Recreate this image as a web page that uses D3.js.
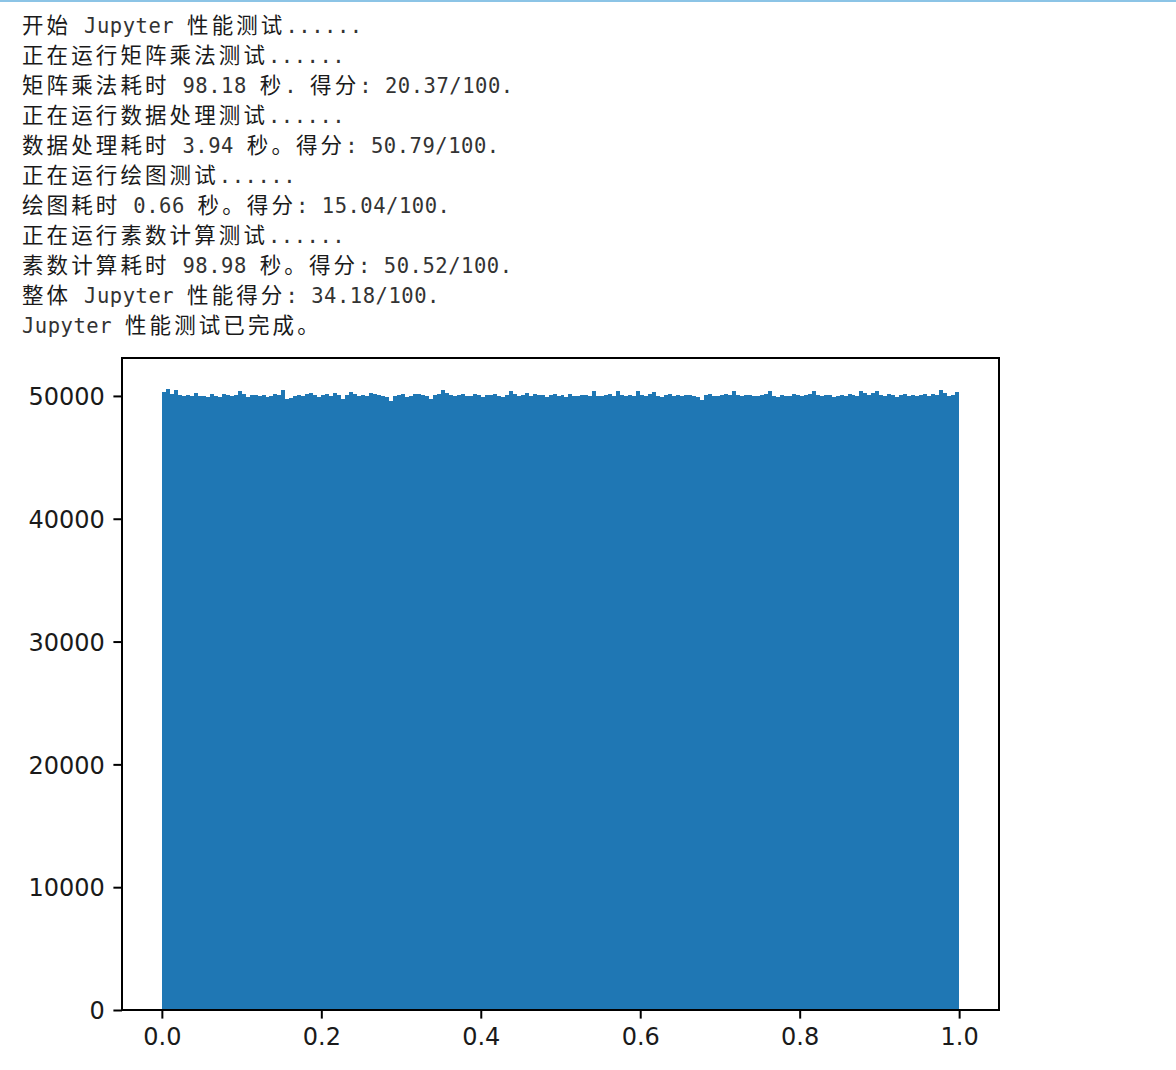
<!DOCTYPE html>
<html>
<head>
<meta charset="utf-8">
<script src="https://cdn.jsdelivr.net/npm/d3@7"></script>
<style>
  html, body { margin: 0; padding: 0; background: #fff; }
  svg { display: block; }
</style>
</head>
<body>
<svg id="chart" width="1176" height="1070"></svg>
<script>
// ---------- data ----------
const outputLines = [
  "开始 Jupyter 性能测试......",
  "正在运行矩阵乘法测试......",
  "矩阵乘法耗时 98.18 秒. 得分: 20.37/100.",
  "正在运行数据处理测试......",
  "数据处理耗时 3.94 秒。得分: 50.79/100.",
  "正在运行绘图测试......",
  "绘图耗时 0.66 秒。得分: 15.04/100.",
  "正在运行素数计算测试......",
  "素数计算耗时 98.98 秒。得分: 50.52/100.",
  "整体 Jupyter 性能得分: 34.18/100.",
  "Jupyter 性能测试已完成。"
];

const binRange = [0, 1];
const binCounts = [
  50310, 50560, 50120, 50480, 50050, 50010, 50090, 49980, 50230, 49960,
  50010, 49920, 50140, 50020, 49950, 50180, 50060, 49990, 50080, 50420,
  50150, 49900, 50060, 50110, 49980, 50040, 49880, 50010, 50130, 50070,
  50500, 49780, 49850, 50020, 50090, 49970, 50160, 50200, 50050, 49940,
  50080, 50130, 50000, 50240, 50060, 49720, 50110, 50290, 50150, 50020,
  50100, 49960, 50270, 50180, 50050, 50010, 49930, 49620, 49990, 50050,
  50140, 49900, 50030, 50120, 50190, 50060, 49970, 49740, 50080, 50120,
  50460, 50200, 50060, 49990, 50090, 50130, 49960, 50020, 50140, 50070,
  49950, 50110, 50060, 50180, 50010, 49930, 50090, 50420, 50160, 49980,
  50050, 50200, 49990, 50120, 50040, 50100, 49920, 50060, 50150, 50010,
  50080, 49950, 50130, 50030, 49970, 50060, 50110, 50010, 50380, 50020,
  49960, 50090, 50140, 50000, 50400, 50040, 49970, 50080, 50030, 50390,
  50060, 49980, 50120, 50360, 50010, 49940, 50070, 50150, 50030, 50090,
  49980, 50050, 50110, 50020, 49900, 49700, 50060, 50140, 50010, 49960,
  50080, 50130, 50050, 50420, 50070, 49990, 50040, 50110, 50020, 49970,
  50060, 50150, 50390, 50020, 49950, 50090, 50030, 49980, 50120, 50060,
  50010, 50090, 50140, 50430, 50070, 49990, 50040, 50100, 49930, 50020,
  50080, 49960, 50130, 50050, 50010, 50400, 50200, 50090, 50250, 50380,
  50060, 49990, 50120, 50040, 49950, 50080, 50150, 50020, 50100, 49970,
  50060, 50130, 50030, 50180, 50090, 50500, 50210, 49980, 50060, 50330
];

const xTicks = [0.0, 0.2, 0.4, 0.6, 0.8, 1.0];
const yTicks = [0, 10000, 20000, 30000, 40000, 50000];

// ---------- layout ----------
const svg = d3.select("#chart");
const W = 1176, H = 1070;

// top cell border
svg.append("rect").attr("x", 0).attr("y", 0).attr("width", W).attr("height", 2)
  .attr("fill", "#8cc4e6");

// ---------- text output ----------
const cjkAdv = 24.6, latAdv = 12.87;
const isCJK = ch => ch.charCodeAt(0) > 0x2E7F;
const textG = svg.append("g");
outputLines.forEach((line, li) => {
  const t = textG.append("text")
    .attr("y", 33 + li * 30)
    .attr("fill", "#1e1e1e");
  let x = 22;
  const chars = Array.from(line);
  let runs = [];
  chars.forEach(ch => {
    const c = isCJK(ch);
    const last = runs[runs.length - 1];
    if (!last || last.cjk !== c) runs.push({cjk: c, chars: [], xs: []});
    const r = runs[runs.length - 1];
    r.chars.push(ch);
    r.xs.push(x.toFixed(2));
    x += c ? cjkAdv : latAdv;
  });
  runs.forEach(r => {
    t.append("tspan")
      .attr("x", r.xs.join(" "))
      .attr("font-family", r.cjk ? "'Noto Sans CJK SC'" : "'DejaVu Sans Mono', 'Liberation Mono', monospace")
      .attr("font-size", r.cjk ? 21.5 : 20.5)
      .attr("fill", r.cjk ? "#1a1a1a" : "#333")
      .attr("xml:space", "preserve")
      .text(r.chars.join(""));
  });
});

// ---------- histogram ----------
const plot = {left: 122, right: 999, top: 358, bottom: 1010};
const nBins = binCounts.length;
const binW = (binRange[1] - binRange[0]) / nBins;
const bins = binCounts.map((c, i) => ({x0: binRange[0] + i * binW, x1: binRange[0] + (i + 1) * binW, count: c}));

const x = d3.scaleLinear()
  .domain([binRange[0] - 0.05 * (binRange[1] - binRange[0]), binRange[1] + 0.05 * (binRange[1] - binRange[0])])
  .range([plot.left, plot.right]);
const y = d3.scaleLinear()
  .domain([0, d3.max(binCounts) * 1.05])
  .range([plot.bottom, plot.top]);

svg.append("g")
  .attr("shape-rendering", "crispEdges")
  .selectAll("rect")
  .data(bins)
  .join("rect")
  .attr("x", d => x(d.x0))
  .attr("width", d => x(d.x1) - x(d.x0))
  .attr("y", d => y(d.count))
  .attr("height", d => y(0) - y(d.count))
  .attr("fill", "#1f77b4");

// frame
svg.append("rect")
  .attr("x", plot.left).attr("y", plot.top)
  .attr("width", plot.right - plot.left).attr("height", plot.bottom - plot.top)
  .attr("fill", "none").attr("stroke", "#000").attr("stroke-width", 2);

const tickLen = 8.6, tickPad = 8.6;
const xAxis = svg.append("g")
  .attr("transform", `translate(0,${plot.bottom})`)
  .call(d3.axisBottom(x).tickValues(xTicks).tickFormat(d3.format(".1f")).tickSize(tickLen).tickPadding(tickPad));
const yAxis = svg.append("g")
  .attr("transform", `translate(${plot.left},0)`)
  .call(d3.axisLeft(y).tickValues(yTicks).tickFormat(d3.format("d")).tickSize(tickLen).tickPadding(tickPad));

[xAxis, yAxis].forEach(g => {
  g.select(".domain").remove();
  g.selectAll(".tick line").attr("stroke", "#000").attr("stroke-width", 2);
  g.selectAll(".tick text")
    .attr("font-family", "'DejaVu Sans', sans-serif")
    .attr("font-size", 24)
    .attr("fill", "#1a1a1a");
});
xAxis.selectAll(".tick text").attr("dy", "0.74em");
yAxis.selectAll(".tick text").attr("dy", "0.36em");
</script>
</body>
</html>
